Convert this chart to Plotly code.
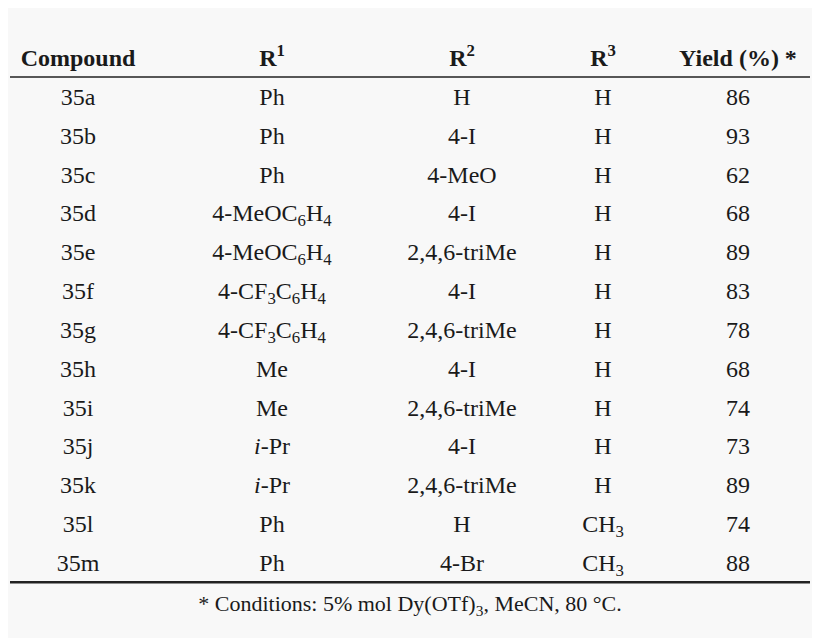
import plotly.graph_objects as go

headers = ["Compound", "R<sup>1</sup>", "R<sup>2</sup>", "R<sup>3</sup>", "Yield (%) *"]
compounds = ["35a", "35b", "35c", "35d", "35e", "35f", "35g", "35h", "35i", "35j", "35k", "35l", "35m"]
r1 = ["Ph", "Ph", "Ph", "4-MeOC<sub>6</sub>H<sub>4</sub>", "4-MeOC<sub>6</sub>H<sub>4</sub>",
      "4-CF<sub>3</sub>C<sub>6</sub>H<sub>4</sub>", "4-CF<sub>3</sub>C<sub>6</sub>H<sub>4</sub>",
      "Me", "Me", "<i>i</i>-Pr", "<i>i</i>-Pr", "Ph", "Ph"]
r2 = ["H", "4-I", "4-MeO", "4-I", "2,4,6-triMe", "4-I", "2,4,6-triMe",
      "4-I", "2,4,6-triMe", "4-I", "2,4,6-triMe", "H", "4-Br"]
r3 = ["H"] * 11 + ["CH<sub>3</sub>", "CH<sub>3</sub>"]
yields = [86, 93, 62, 68, 89, 83, 78, 68, 74, 73, 89, 74, 88]
footnote = "* Conditions: 5% mol Dy(OTf)<sub>3</sub>, MeCN, 80 °C."

col_x = [78, 272, 462, 603, 738]
serif = "Times New Roman, Liberation Serif, serif"
font = dict(family=serif, size=24, color="#1a1a1a")

fig = go.Figure()
columns = [compounds, r1, r2, r3, [str(v) for v in yields]]
rows = list(range(1, len(compounds) + 1))
for x, col in zip(col_x, columns):
    fig.add_trace(go.Scatter(x=[x] * len(col), y=rows, text=col, mode="text",
                             textfont=font, hoverinfo="skip"))
fig.add_trace(go.Scatter(x=col_x, y=[0] * 5, text=["<b>%s</b>" % h for h in headers],
                         mode="text", textfont=font, hoverinfo="skip"))
fig.add_trace(go.Scatter(x=[410], y=[14.05], text=[footnote], mode="text",
                         textfont=dict(family=serif, size=22, color="#1a1a1a"),
                         hoverinfo="skip"))

fig.add_shape(type="line", x0=10, x1=810, y0=0.44, y1=0.44, line=dict(color="#222", width=1.5))
fig.add_shape(type="line", x0=10, x1=810, y0=13.44, y1=13.44, line=dict(color="#222", width=2.5))

fig.update_xaxes(range=[8, 820], visible=False)
fig.update_yaxes(range=[14.878, -1.338], visible=False)
fig.update_layout(width=812, height=630, margin=dict(l=0, r=0, t=0, b=0),
                  showlegend=False, plot_bgcolor="#f8f8f8", paper_bgcolor="#f8f8f8")
fig.write_html("out.html")
